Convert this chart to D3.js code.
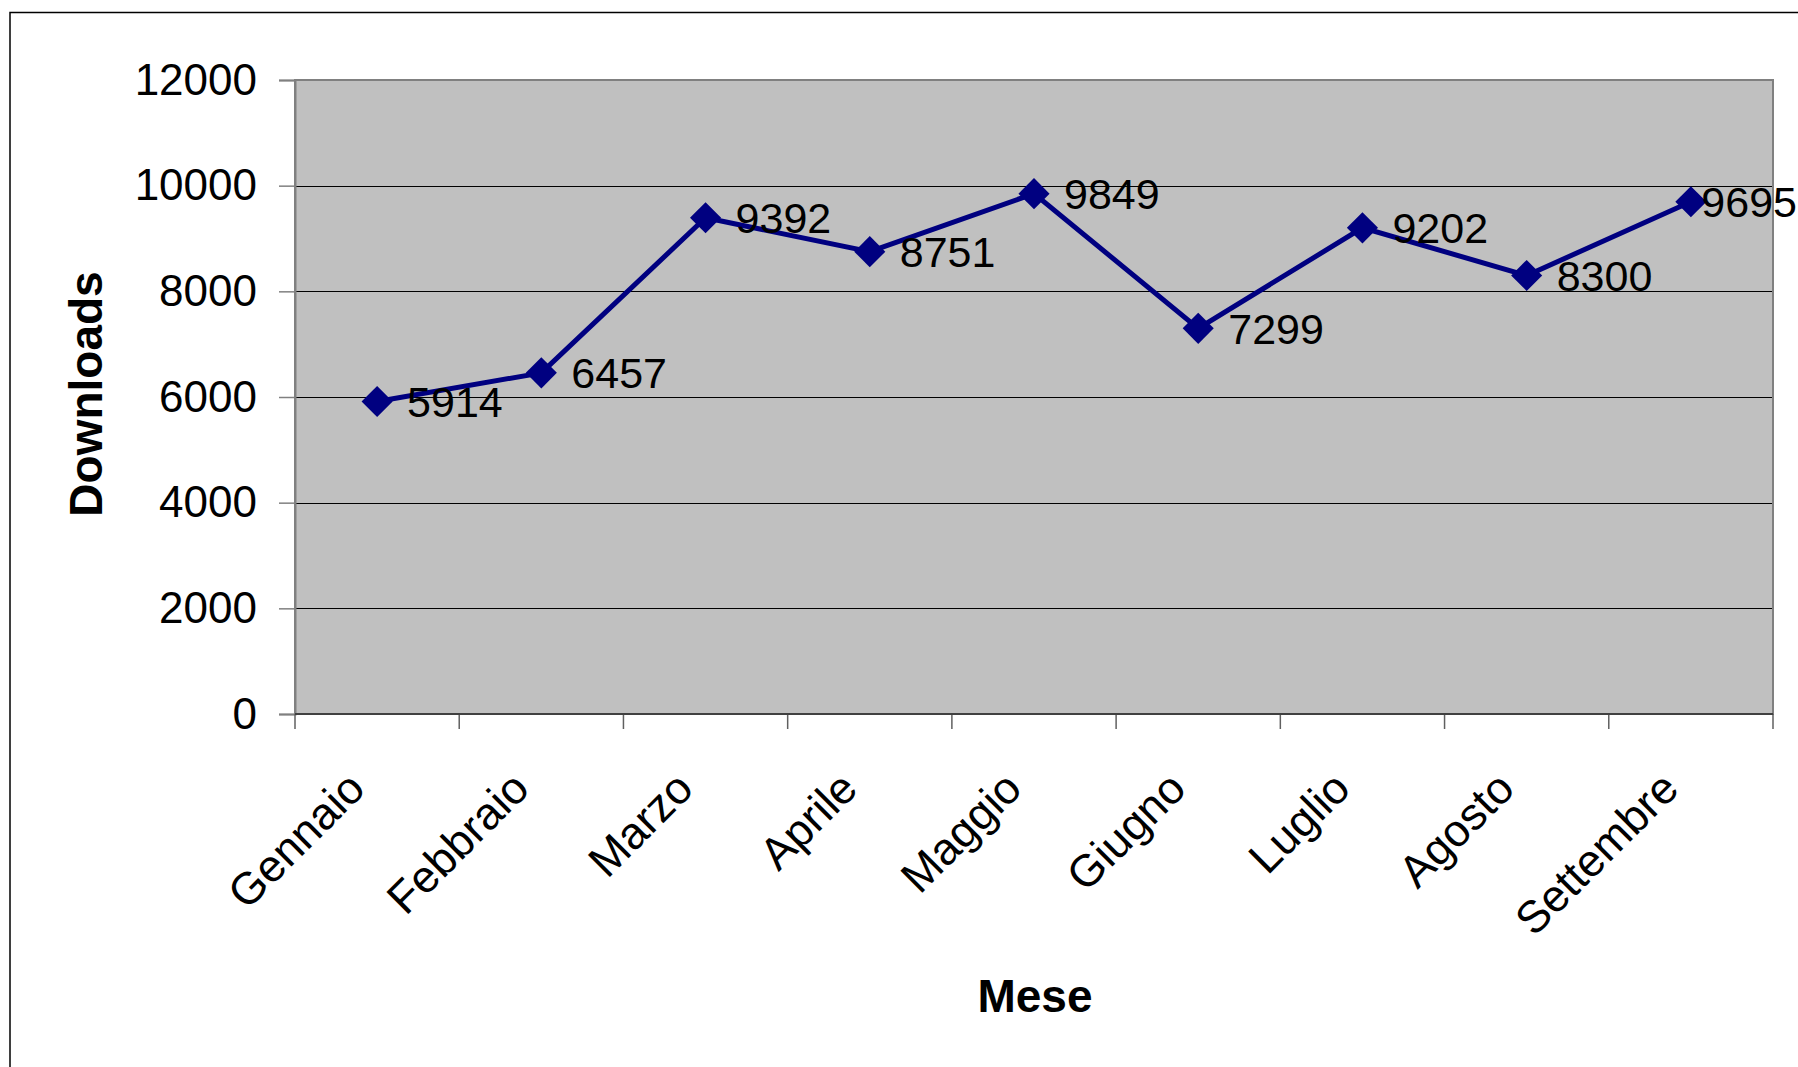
<!DOCTYPE html>
<html><head><meta charset="utf-8">
<script src="https://cdn.jsdelivr.net/npm/d3@7"></script>
<style>
html,body{margin:0;padding:0;background:#fff;overflow:hidden;}
text{font-family:"Liberation Sans",Arial,sans-serif;}
</style></head>
<body>
<svg id="chart" width="1798" height="1067"></svg>
<script>
const months = ["Gennaio","Febbraio","Marzo","Aprile","Maggio","Giugno","Luglio","Agosto","Settembre"];
const downloads = [5914,6457,9392,8751,9849,7299,9202,8300,9695];
const yTicks = [0,2000,4000,6000,8000,10000,12000];
const yTitle = "Downloads";
const xTitle = "Mese";

const svg = d3.select("#chart");
const L = 295, R = 1773, T = 80, B = 714;

// outer frame
svg.append("rect").attr("x",10).attr("y",12.5).attr("width",1820).attr("height",1100)
  .attr("fill","#fff").attr("stroke","#000").attr("stroke-width",1.5);

const x = d3.scaleBand().domain(months).range([L,R]).padding(0);
const y = d3.scaleLinear().domain([0,12000]).range([B,T]);

// plot area
svg.append("rect").attr("x",L).attr("y",T).attr("width",R-L).attr("height",B-T)
  .attr("fill","#c0c0c0");

// gridlines
svg.append("g").selectAll("line").data(yTicks.filter(d=>d>0 && d<12000)).join("line")
  .attr("x1",L).attr("x2",R).attr("y1",d=>Math.round(y(d))+0.5).attr("y2",d=>Math.round(y(d))+0.5)
  .attr("stroke","#000").attr("stroke-width",1);

// plot border
svg.append("rect").attr("x",L).attr("y",T).attr("width",R-L).attr("height",B-T)
  .attr("fill","none").attr("stroke","#808080").attr("stroke-width",2);

// y axis
const yAxis = d3.axisLeft(y).tickValues(yTicks).tickSize(16).tickPadding(22).tickFormat(d3.format("d"));
const gy = svg.append("g").attr("transform",`translate(${L},0)`).call(yAxis);
gy.select(".domain").attr("stroke","#808080").attr("stroke-width",2);
gy.selectAll(".tick line").attr("stroke","#808080").attr("stroke-width",1.5);
gy.selectAll(".tick text").attr("font-size",44).attr("fill","#000")
  .attr("font-family","'Liberation Sans',Arial,sans-serif");

// x axis ticks at category boundaries
const bounds = months.map(m=>x(m)).concat([R]);
svg.append("g").selectAll("line").data(bounds).join("line")
  .attr("x1",d=>d).attr("x2",d=>d).attr("y1",B).attr("y2",B+15)
  .attr("stroke","#606060").attr("stroke-width",1.5);
svg.append("line").attr("x1",L).attr("x2",R).attr("y1",B).attr("y2",B)
  .attr("stroke","#404040").attr("stroke-width",2);

// x labels
svg.append("g").selectAll("text").data(months).join("text")
  .attr("transform",d=>`translate(${x(d)+x.bandwidth()/2-10},791) rotate(-45)`)
  .attr("text-anchor","end").attr("font-size",45).attr("fill","#000")
  .text(d=>d);

// line
const cx = (d,i)=>x(months[i])+x.bandwidth()/2;
svg.append("path").datum(downloads)
  .attr("d",d3.line().x((d,i)=>cx(d,i)).y(d=>y(d)))
  .attr("fill","none").attr("stroke","#000080").attr("stroke-width",5);

// markers
svg.append("g").selectAll("path").data(downloads).join("path")
  .attr("transform",(d,i)=>`translate(${cx(d,i)},${y(d)}) rotate(45)`)
  .attr("d","M-11,-11H11V11H-11Z").attr("fill","#000080");

// data labels
const lbl = svg.append("g").selectAll("text").data(downloads).join("text")
  .attr("x",(d,i)=>cx(d,i)+30).attr("y",d=>y(d)).attr("dy","0.36em")
  .attr("font-size",43).attr("fill","#000").text(d=>d);
lbl.each(function(){
  const w = this.getComputedTextLength();
  const xx = +this.getAttribute("x");
  if (xx + w > 1797) this.setAttribute("x", 1797 - w);
});

// axis titles
svg.append("text").attr("transform","translate(102,394) rotate(-90)")
  .attr("text-anchor","middle").attr("font-size",46).attr("font-weight","bold").text(yTitle);
svg.append("text").attr("x",1035).attr("y",1012)
  .attr("text-anchor","middle").attr("font-size",46).attr("font-weight","bold").text(xTitle);
</script>
</body></html>
